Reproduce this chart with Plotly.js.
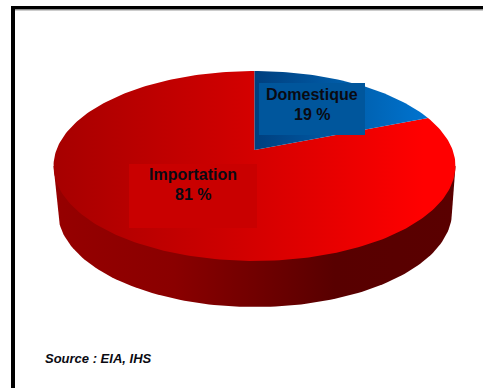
<!DOCTYPE html>
<html>
<head>
<meta charset="utf-8">
<script src="https://cdn.plot.ly/plotly-3.0.1.min.js"></script>
<style>html,body{margin:0;padding:0;background:#fff;overflow:hidden}</style>
</head>
<body>
<div id="chart" style="width:483px;height:388px"></div>
<script>
// Supply shares, in percent, clockwise from twelve o'clock
const categories = ["Domestique", "Importation"];
const shares = [19, 81];
const sourceNote = "Source : EIA, IHS";

// Tilted disc: a unit circle projected in perspective onto the page
const disc = {cx: 254.5, apexY: 150, k: 198.1, a: 67.1, c: -0.168};
const rim = {cx: 255, cy: 212, rx: 197, ry: 95};

function project(angle) {
  const u = Math.sin(angle), v = -Math.cos(angle);
  const w = 1 + disc.c * v;
  return [disc.cx + disc.k * u / w, (disc.a * v + disc.apexY) / w];
}

function wedge(fromShare, toShare) {
  const steps = Math.max(8, Math.round((toShare - fromShare) * 3));
  const pts = [[disc.cx, disc.apexY]];
  for (let i = 0; i <= steps; i++) {
    const s = fromShare + (toShare - fromShare) * i / steps;
    pts.push(project(s / 100 * 2 * Math.PI));
  }
  pts.push([disc.cx, disc.apexY]);
  return pts;
}

// Visible side wall: from the disc's widest points down round the lower rim
function sideWall() {
  const pts = [[53.5, 166]];
  for (let i = 0; i <= 120; i++) {
    const t = Math.PI - Math.PI * i / 120;
    pts.push([rim.cx + rim.rx * Math.cos(t), rim.cy + rim.ry * Math.sin(t)]);
  }
  pts.push([455.5, 166], [53.5, 166]);
  return pts;
}

function area(pts, name, stops) {
  return {
    type: "scatter", mode: "lines", name: name,
    x: pts.map(p => p[0]), y: pts.map(p => p[1]),
    line: {width: 0}, fill: "toself", hoverinfo: "name",
    fillgradient: {type: "horizontal", colorscale: stops}
  };
}

const domesticEnd = shares[0];
const traces = [
  area(sideWall(), "Side", [[0, "#960000"], [0.3, "#8a0000"], [0.7, "#580000"], [1, "#5a0000"]]),
  area(wedge(domesticEnd, 100), categories[1], [[0, "#a60000"], [0.5, "#d40000"], [0.72, "#ea0000"], [0.92, "#ff0000"], [1, "#ff0000"]]),
  area(wedge(0, domesticEnd), categories[0], [[0, "#003f7e"], [0.5, "#005ca8"], [1, "#0074d0"]])
];

const ink = "#0a0a12";
const labelFont = {family: "Liberation Sans, Arial, sans-serif", size: 16, color: ink};

const layout = {
  width: 483, height: 388,
  margin: {l: 0, r: 0, t: 0, b: 0},
  paper_bgcolor: "#fff", plot_bgcolor: "#fff",
  showlegend: false,
  xaxis: {range: [0, 483], visible: false, fixedrange: true},
  yaxis: {range: [388, 0], visible: false, fixedrange: true},
  shapes: [
    {type: "rect", x0: 11, x1: 15, y0: 6, y1: 388, fillcolor: "#000", line: {width: 0}},
    {type: "rect", x0: 11, x1: 483, y0: 6, y1: 9.5, fillcolor: "#000", line: {width: 0}},
    {type: "rect", x0: 15, x1: 483, y0: 9.5, y1: 10.5, fillcolor: "#999", line: {width: 0}},
    {type: "rect", x0: 259, x1: 365, y0: 83, y1: 135, fillcolor: "#00569c", line: {width: 0}, layer: "above"},
    {type: "rect", x0: 129, x1: 257, y0: 164, y1: 228, fillcolor: "#c90000", line: {width: 0}, layer: "above"}
  ],
  annotations: [
    {x: 312, y: 94.5, text: "<b>" + categories[0] + "</b>", showarrow: false, font: labelFont},
    {x: 312, y: 114, text: "<b>" + shares[0] + " %</b>", showarrow: false, font: labelFont},
    {x: 193, y: 174, text: "<b>" + categories[1] + "</b>", showarrow: false, font: labelFont},
    {x: 193, y: 194, text: "<b>" + shares[1] + " %</b>", showarrow: false, font: labelFont},
    {x: 43, y: 358, xanchor: "left", text: "<b><i>" + sourceNote + "</i></b>", showarrow: false,
     font: {family: "Liberation Sans, Arial, sans-serif", size: 13, color: ink}}
  ]
};

Plotly.newPlot("chart", traces, layout, {displayModeBar: false});
</script>
</body>
</html>
